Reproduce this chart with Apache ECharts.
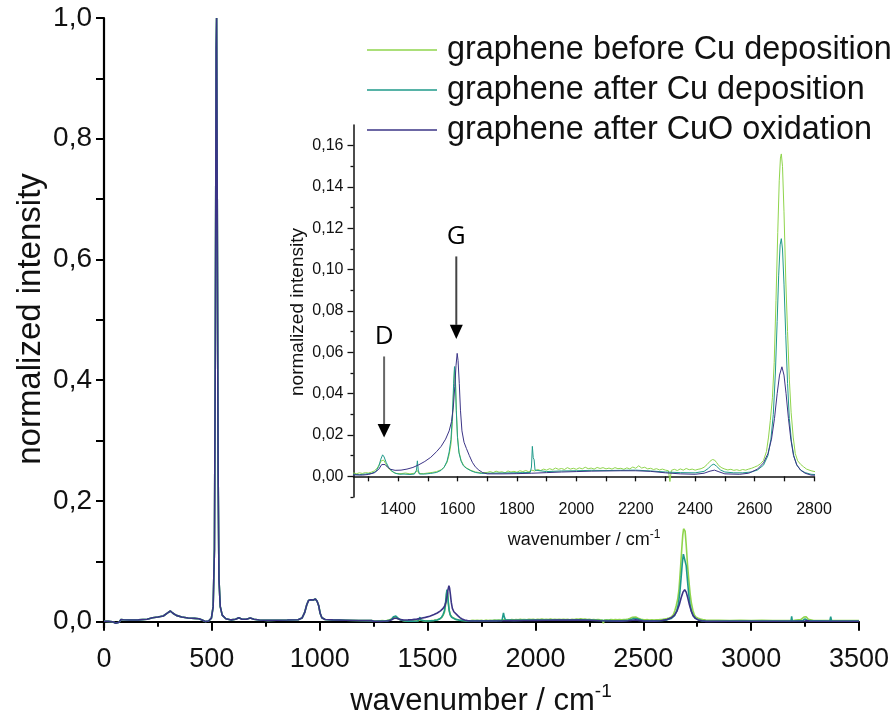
<!DOCTYPE html>
<html><head><meta charset="utf-8">
<script src="https://cdn.jsdelivr.net/npm/echarts@6/dist/echarts.min.js"></script>
<style>html,body{margin:0;padding:0;background:#fff}#c{width:892px;height:726px}</style>
</head><body><div id="c"></div>
<script>
const seriesNames = ['graphene before Cu deposition', 'graphene after Cu deposition', 'graphene after CuO oxidation'];
const seriesColors = ['#8fd44c', '#1f9a8a', '#3b3486'];

// shared low-wavenumber part (all three spectra coincide there)
const lowRange = [[0,0.0008],[20,0.0006],[40,0.0],[55,-0.0025],[63,-0.0045],[70,-0.001],[78,0.0035],[90,0.0032],[120,0.0028],[160,0.003],[200,0.0042],[225,0.0065],[250,0.0078],[275,0.0095],[295,0.0145],[308,0.0178],[318,0.0145],[335,0.0105],[360,0.0078],[390,0.0062],[420,0.0055],[440,0.005],[455,0.0028],[470,0.0005],[485,0.0012],[498,0.006],[506,0.025],[512,0.12],[516,0.45],[520,0.95],[522,1.0],[525,0.7],[529,0.25],[533,0.07],[539,0.025],[548,0.011],[565,0.005],[590,0.003],[610,0.004],[625,0.0065],[640,0.0042],[660,0.004],[678,0.0062],[695,0.004],[720,0.0028],[760,0.0022],[800,0.0025],[850,0.0028],[900,0.0032],[918,0.006],[930,0.015],[940,0.028],[948,0.035],[958,0.0365],[970,0.036],[980,0.0375],[988,0.034],[995,0.027],[1002,0.014],[1010,0.0065],[1025,0.0038],[1060,0.003],[1120,0.0025],[1180,0.002],[1240,0.0018]];

const greenData = [[1250,0.0016],[1260,0.0013],[1270,0.0017],[1280,0.0014],[1290,0.0018],[1300,0.0016],[1310,0.0020],[1320,0.0026],[1330,0.0040],[1338,0.0060],[1344,0.0076],[1348,0.0081],[1352,0.0078],[1358,0.0062],[1365,0.0044],[1375,0.0028],[1385,0.0019],[1395,0.0014],[1410,0.0013],[1425,0.0016],[1440,0.0012],[1455,0.0015],[1465,0.0028],[1470,0.0014],[1485,0.0013],[1500,0.0016],[1515,0.0019],[1530,0.0023],[1545,0.0032],[1555,0.0044],[1565,0.0068],[1572,0.0105],[1578,0.0155],[1583,0.0265],[1587,0.0415],[1590,0.0515],[1593,0.0475],[1596,0.0325],[1600,0.0195],[1605,0.0118],[1612,0.0078],[1620,0.0054],[1630,0.0041],[1645,0.0029],[1660,0.0021],[1680,0.0017],[1700,0.0019],[1710,0.0023],[1720,0.0018],[1730,0.0025],[1740,0.0020],[1750,0.0022],[1760,0.0017],[1770,0.0026],[1780,0.0021],[1790,0.0024],[1800,0.0020],[1810,0.0027],[1820,0.0023],[1830,0.0028],[1840,0.0022],[1850,0.0030],[1860,0.0026],[1870,0.0033],[1880,0.0028],[1890,0.0035],[1900,0.0030],[1910,0.0037],[1920,0.0032],[1930,0.0040],[1940,0.0034],[1950,0.0038],[1960,0.0033],[1970,0.0042],[1980,0.0035],[1990,0.0039],[2000,0.0034],[2010,0.0041],[2020,0.0036],[2030,0.0044],[2040,0.0037],[2050,0.0040],[2060,0.0035],[2070,0.0043],[2080,0.0038],[2090,0.0042],[2100,0.0036],[2110,0.0040],[2120,0.0035],[2130,0.0042],[2140,0.0037],[2150,0.0039],[2160,0.0034],[2170,0.0041],[2180,0.0036],[2190,0.0045],[2200,0.0039],[2210,0.0051],[2220,0.0040],[2230,0.0044],[2240,0.0036],[2250,0.0039],[2260,0.0033],[2270,0.0037],[2280,0.0031],[2290,0.0035],[2300,0.0030],[2310,0.0027],[2315,-0.0025],[2320,0.0029],[2330,0.0034],[2340,0.0028],[2350,0.0036],[2360,0.0030],[2370,0.0038],[2380,0.0032],[2390,0.0035],[2400,0.0030],[2410,0.0034],[2420,0.0037],[2430,0.0044],[2440,0.0057],[2450,0.0073],[2458,0.0081],[2465,0.0079],[2472,0.0067],[2480,0.0051],[2490,0.0041],[2500,0.0035],[2510,0.0031],[2520,0.0034],[2530,0.0029],[2540,0.0032],[2550,0.0028],[2560,0.0033],[2570,0.0030],[2580,0.0035],[2590,0.0039],[2600,0.0045],[2610,0.0051],[2620,0.0061],[2630,0.0077],[2640,0.0120],[2647,0.0190],[2653,0.0270],[2660,0.0380],[2666,0.0550],[2672,0.0850],[2678,0.1180],[2683,0.1430],[2687,0.1540],[2690,0.1560],[2694,0.1500],[2699,0.1280],[2705,0.0950],[2711,0.0700],[2717,0.0470],[2723,0.0310],[2730,0.0190],[2737,0.0110],[2745,0.0075],[2755,0.0058],[2765,0.0046],[2775,0.0035],[2790,0.0027],[2805,0.0022],[2850,0.0024],[2900,0.0021],[2950,0.0023],[3000,0.0020],[3050,0.0022],[3100,0.0019],[3150,0.0021],[3200,0.0022],[3230,0.0034],[3245,0.0078],[3255,0.0083],[3265,0.0040],[3290,0.0021],[3350,0.0019],[3400,0.0020],[3450,0.0018],[3500,0.0019]];

const tealData = [[1250,0.0010],[1270,0.0008],[1290,0.0011],[1310,0.0014],[1325,0.0023],[1335,0.0048],[1342,0.0083],[1348,0.0104],[1353,0.0094],[1360,0.0067],[1368,0.0044],[1378,0.0027],[1390,0.0015],[1405,0.0010],[1420,0.0011],[1440,0.0009],[1455,0.0011],[1462,0.0030],[1465,0.0075],[1468,0.0030],[1472,0.0011],[1490,0.0011],[1510,0.0014],[1530,0.0019],[1545,0.0029],[1555,0.0044],[1565,0.0074],[1572,0.0118],[1578,0.0178],[1583,0.0298],[1587,0.0448],[1590,0.0531],[1593,0.0468],[1596,0.0318],[1600,0.0188],[1605,0.0114],[1612,0.0074],[1620,0.0051],[1630,0.0039],[1645,0.0027],[1660,0.0019],[1680,0.0014],[1700,0.0015],[1740,0.0016],[1780,0.0017],[1820,0.0018],[1845,0.0019],[1849,0.0045],[1852,0.0145],[1855,0.0090],[1858,0.0080],[1861,0.0030],[1866,0.0021],[1900,0.0023],[1950,0.0026],[2000,0.0027],[2050,0.0029],[2100,0.0028],[2150,0.0029],[2200,0.0030],[2250,0.0026],[2300,0.0021],[2350,0.0018],[2400,0.0017],[2430,0.0024],[2445,0.0039],[2455,0.0054],[2463,0.0059],[2472,0.0049],[2485,0.0031],[2500,0.0021],[2530,0.0017],[2560,0.0017],[2590,0.0021],[2610,0.0031],[2630,0.0054],[2645,0.0100],[2655,0.0180],[2663,0.0300],[2670,0.0500],[2676,0.0750],[2681,0.0970],[2686,0.1120],[2690,0.1150],[2694,0.1100],[2699,0.0930],[2705,0.0680],[2711,0.0450],[2717,0.0280],[2724,0.0170],[2732,0.0100],[2742,0.0055],[2755,0.0030],[2770,0.0018],[2790,0.0010],[2810,0.0008],[2900,0.0010],[3000,0.0010],[3100,0.0011],[3102,0.0030],[3105,0.0011],[3185,0.0012],[3188,0.0090],[3191,0.0012],[3240,0.0020],[3250,0.0045],[3260,0.0020],[3365,0.0012],[3369,0.0085],[3373,0.0012],[3450,0.0010],[3500,0.0010]];

const purpleData = [[1250,0.0007],[1280,0.0006],[1300,0.0009],[1320,0.0017],[1335,0.0034],[1345,0.0057],[1350,0.0064],[1356,0.0057],[1365,0.0044],[1375,0.0034],[1390,0.0029],[1410,0.0030],[1430,0.0035],[1450,0.0043],[1470,0.0056],[1490,0.0072],[1510,0.0092],[1530,0.0120],[1545,0.0145],[1560,0.0180],[1572,0.0220],[1580,0.0265],[1586,0.0335],[1591,0.0435],[1595,0.0535],[1599,0.0595],[1602,0.0560],[1606,0.0450],[1610,0.0320],[1615,0.0220],[1622,0.0165],[1630,0.0135],[1640,0.0100],[1650,0.0068],[1660,0.0046],[1672,0.0030],[1685,0.0018],[1700,0.0012],[1750,0.0012],[1800,0.0013],[1850,0.0015],[1900,0.0018],[1950,0.0021],[2000,0.0023],[2050,0.0025],[2100,0.0026],[2150,0.0027],[2200,0.0027],[2250,0.0024],[2300,0.0017],[2350,0.0012],[2400,0.0010],[2430,0.0015],[2450,0.0025],[2465,0.0030],[2480,0.0022],[2500,0.0012],[2550,0.0010],[2580,0.0015],[2610,0.0035],[2630,0.0065],[2645,0.0110],[2657,0.0180],[2667,0.0280],[2676,0.0400],[2684,0.0490],[2692,0.0530],[2699,0.0490],[2706,0.0400],[2714,0.0280],[2722,0.0180],[2731,0.0100],[2742,0.0055],[2755,0.0030],[2770,0.0015],[2790,0.0006],[2810,0.0005],[2900,0.0007],[3000,0.0008],[3100,0.0008],[3250,0.0012],[3260,0.0018],[3270,0.0010],[3400,0.0008],[3500,0.0008]];

const mainYTicks = [0,0.1,0.2,0.3,0.4,0.5,0.6,0.7,0.8,0.9,1.0];
const mainYLabels = [0,0.2,0.4,0.6,0.8,1.0];
const insetYLabels = [0,0.02,0.04,0.06,0.08,0.10,0.12,0.14,0.16];
const insetYMinor = [-0.01,0.01,0.03,0.05,0.07,0.09,0.11,0.13,0.15];
const insetXTicks = [1300,1400,1500,1600,1700,1800,1900,2000,2100,2200,2300,2400,2500,2600,2700,2800];
const insetXLabels = [1400,1600,1800,2000,2200,2400,2600,2800];
const annotations = [
  {text:'D', x:1353, textY:0.0675, shaftTop:0.058, headTop:0.0253, tip:0.0188, shaft:'#666'},
  {text:'G', x:1596, textY:0.116, shaftTop:0.1064, headTop:0.0733, tip:0.0665, shaft:'#444'}
];

const FONT = '"Liberation Sans", Arial, sans-serif';
const allData = [greenData, tealData, purpleData].map(d => lowRange.concat(d));
const chart = echarts.init(document.getElementById('c'), null, {renderer: 'canvas'});

const series = [];
allData.forEach((d, i) => {
  series.push({name: seriesNames[i], type: 'line', data: d, xAxisIndex: 0, yAxisIndex: 0,
    symbol: 'none', lineStyle: {color: seriesColors[i], width: 1.6}, itemStyle: {color: seriesColors[i]}, animation: false});
});
allData.forEach((d, i) => {
  series.push({name: seriesNames[i], type: 'line', data: d, xAxisIndex: 1, yAxisIndex: 1,
    symbol: 'none', lineStyle: {color: seriesColors[i], width: 1}, itemStyle: {color: seriesColors[i]}, animation: false, clip: true});
});

const fmt0 = v => String(Math.round(v));
const fmt1 = v => v.toFixed(1).replace('.', ',');
const fmt2 = v => v.toFixed(2).replace('.', ',');

const option = {
  backgroundColor: '#fff',
  animation: false,
  textStyle: {fontFamily: FONT},
  grid: [
    {left: 104, top: 18, width: 756, height: 610},
    {left: 353.5, top: 125, width: 460.5, height: 372}
  ],
  legend: {
    data: seriesNames, orient: 'vertical', left: 367, top: 34, itemGap: 8, padding: 0,
    icon: 'rect', itemWidth: 70, itemHeight: 1.6,
    textStyle: {fontSize: 32.4, color: '#111', fontFamily: FONT, padding: [0, 0, 0, 5]},
    selectedMode: false
  },
  xAxis: [
    {gridIndex: 0, type: 'value', min: 0, max: 3500, interval: 500,
      axisLine: {lineStyle: {color: '#000', width: 2.2}},
      axisTick: {show: true, inside: false, length: 9, lineStyle: {color: '#000', width: 2}},
      minorTick: {show: true, splitNumber: 2, length: 5, lineStyle: {color: '#000', width: 2}},
      axisLabel: {fontSize: 27, color: '#111', margin: 18, formatter: fmt0, fontFamily: FONT},
      splitLine: {show: false}, minorSplitLine: {show: false}},
    {gridIndex: 1, type: 'value', min: 1250, max: 2800,
      axisLine: {lineStyle: {color: '#111', width: 1.5}},
      axisTick: {show: true, inside: false, length: 5, customValues: insetXTicks, lineStyle: {color: '#111', width: 1.3}},
      axisLabel: {fontSize: 16, color: '#111', margin: 5, customValues: insetXLabels, formatter: fmt0, fontFamily: FONT},
      splitLine: {show: false}}
  ],
  yAxis: [
    {gridIndex: 0, type: 'value', min: -0.0104, max: 1.0,
      axisLine: {show: true, lineStyle: {color: '#000', width: 2.2}},
      axisTick: {show: true, inside: false, length: 8, customValues: mainYTicks, lineStyle: {color: '#000', width: 2}},
      axisLabel: {fontSize: 28, color: '#111', margin: 12, customValues: mainYLabels, formatter: fmt1, fontFamily: FONT},
      splitLine: {show: false}},
    {gridIndex: 1, type: 'value', min: -0.01, max: 0.17,
      axisLine: {show: true, lineStyle: {color: '#111', width: 1.5}},
      axisTick: {show: true, inside: false, length: 6, customValues: insetYLabels, lineStyle: {color: '#111', width: 1.3}},
      axisLabel: {fontSize: 16, color: '#111', margin: 10, customValues: insetYLabels, formatter: fmt2, fontFamily: FONT},
      splitLine: {show: false}},
    {gridIndex: 1, type: 'value', min: -0.01, max: 0.17, position: 'left',
      axisLine: {show: false},
      axisTick: {show: true, inside: false, length: 3, customValues: insetYMinor, lineStyle: {color: '#111', width: 1.3}},
      axisLabel: {show: false},
      splitLine: {show: false}}
  ],
  series: series
};
chart.setOption(option);

// titles + annotations
const g = [];
g.push({type: 'text', x: 481, y: 701, style: {text: 'wavenumber / cm{sup|-1}', fontSize: 31, fontFamily: FONT, fill: '#111', align: 'center', verticalAlign: 'middle',
  rich: {sup: {fontSize: 19, fontFamily: FONT, fill: '#111', padding: [0, 0, 18, 0]}}}});
g.push({type: 'text', x: 31, y: 319, rotation: Math.PI / 2, style: {text: 'normalized intensity', fontSize: 33, fontFamily: FONT, fill: '#111', align: 'center', verticalAlign: 'middle'}});
g.push({type: 'text', x: 584, y: 540, style: {text: 'wavenumber / cm{sup|-1}', fontSize: 18, fontFamily: FONT, fill: '#111', align: 'center', verticalAlign: 'middle',
  rich: {sup: {fontSize: 12, fontFamily: FONT, fill: '#111', padding: [0, 0, 10, 0]}}}});
g.push({type: 'text', x: 298, y: 312, rotation: Math.PI / 2, style: {text: 'normalized intensity', fontSize: 19, fontFamily: FONT, fill: '#111', align: 'center', verticalAlign: 'middle'}});

annotations.forEach(a => {
  const pText = chart.convertToPixel({xAxisIndex: 1, yAxisIndex: 1}, [a.x, a.textY]);
  const pTop = chart.convertToPixel({xAxisIndex: 1, yAxisIndex: 1}, [a.x, a.shaftTop]);
  const pHead = chart.convertToPixel({xAxisIndex: 1, yAxisIndex: 1}, [a.x, a.headTop]);
  const pTip = chart.convertToPixel({xAxisIndex: 1, yAxisIndex: 1}, [a.x, a.tip]);
  g.push({type: 'text', x: pText[0], y: pText[1], style: {text: a.text, fontSize: 26, fontFamily: '"Open Sans", "Noto Sans", sans-serif', fill: '#000', align: 'center', verticalAlign: 'middle'}});
  g.push({type: 'line', shape: {x1: pTop[0], y1: pTop[1], x2: pHead[0], y2: pHead[1]}, style: {stroke: a.shaft, lineWidth: 2}});
  g.push({type: 'polygon', shape: {points: [[pHead[0] - 6.5, pHead[1]], [pHead[0] + 6.5, pHead[1]], [pTip[0], pTip[1]]]}, style: {fill: '#000'}});
});
chart.setOption({graphic: g});
</script>
</body></html>
